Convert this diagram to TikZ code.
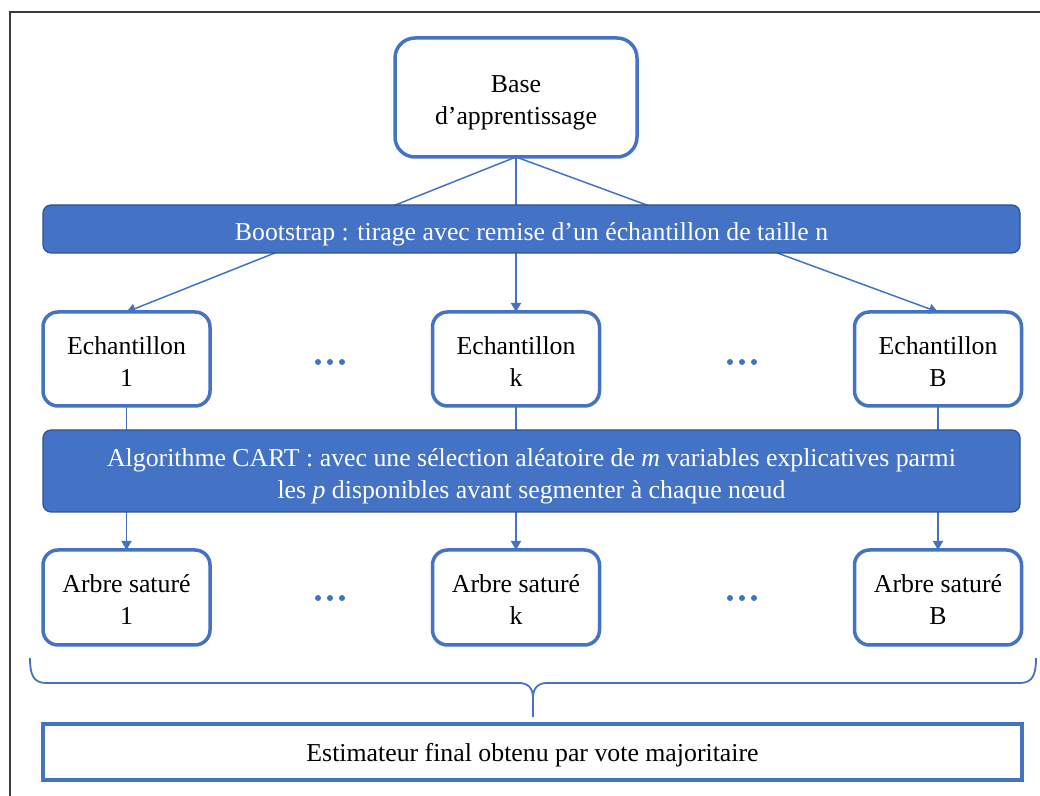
\documentclass[tikz,border=0pt]{standalone}
\usepackage{fontspec}
\setmainfont{Liberation Serif}
\usetikzlibrary{arrows.meta}
\definecolor{accent}{HTML}{4472C4}
\definecolor{accentdark}{HTML}{2F528F}
\definecolor{framegray}{HTML}{3A3A3A}
% invisible strut that gives the first text line some extra height
\newcommand{\firststrut}[1]{\rule{0pt}{#1}}

\begin{document}
\begin{tikzpicture}[x=0.5pt,y=-0.5pt,
  textlift/.style={execute at begin node={\firststrut{#1}}},
  every node/.style={font=\fontsize{12.9}{16}\selectfont, align=center, inner sep=0pt, outer sep=0pt,
    textlift=12.2pt},
  whitebox/.style={draw=accent, line width=1.75pt, fill=white, rounded corners=7.5pt,
    minimum width=83.5pt, minimum height=47pt},
  basebox/.style={whitebox, rounded corners=10pt, minimum width=121pt, minimum height=59.5pt},
  bluebar/.style={draw=accentdark, line width=0.6pt, fill=accent, text=white, rounded corners=4pt,
    minimum width=488.5pt},
  finalbox/.style={draw=accent, line width=2pt, fill=white, minimum width=489.5pt, minimum height=28pt},
  link/.style={draw=accent, line width=0.75pt},
  arrowlink/.style={link, -{Triangle[length=4.5pt,width=5pt]}},
  brace/.style={draw=accent, line width=0.9pt},
  dot/.style={fill=accent}
]
\useasboundingbox (0,0) rectangle (1040,796);

% outer frame (left and top edges)
\draw[framegray, line width=1.1pt] (10,796) -- (10,12) -- (1040,12);

% training set
\node[basebox] (base) at (516,97.5) {\firststrut{13.6pt}Base\\d’apprentissage};

% bootstrap samples
\node[whitebox] (e1) at (126.5,359) {\firststrut{11.9pt}Echantillon\\1};
\node[whitebox] (ek) at (516,359) {\firststrut{11.9pt}Echantillon\\k};
\node[whitebox] (eB) at (938,359) {\firststrut{11.9pt}Echantillon\\B};

% fully grown trees
\node[whitebox, minimum height=47.5pt] (t1) at (126.5,597.5) {\firststrut{10.9pt}Arbre saturé\\1};
\node[whitebox, minimum height=47.5pt] (tk) at (516,597.5) {\firststrut{10.9pt}Arbre saturé\\k};
\node[whitebox, minimum height=47.5pt] (tB) at (938,597.5) {\firststrut{10.9pt}Arbre saturé\\B};

% connectors pass under the two blue bars
\draw[arrowlink] (base.south) -- (e1.north);
\draw[arrowlink] (base.south) -- (ek.north);
\draw[arrowlink] (base.south) -- (eB.north);
\draw[arrowlink] (e1.south) -- (t1.north);
\draw[arrowlink] (ek.south) -- (tk.north);
\draw[arrowlink] (eB.south) -- (tB.north);

% process bars
\node[bluebar, minimum height=24pt, textlift=14.2pt] (boot) at (531.5,229)
  {Bootstrap : tirage avec remise d’un échantillon de taille n};
\node[bluebar, minimum height=41pt] (cart) at (531.5,471)
  {\firststrut{14.5pt}Algorithme CART : avec une sélection aléatoire de \textit{m} variables explicatives parmi\\
   les \textit{p} disponibles avant segmenter à chaque nœud};

% ellipses between the columns
\foreach \cx in {318,330,342,730,742,754} {
  \fill[dot] (\cx,362) circle (3);
  \fill[dot] (\cx,598) circle (3);
}

% brace gathering the trees
\draw[brace] (30,658) .. controls (30,674) and (33,683) .. (46,683) -- (519,683)
  .. controls (528,683) and (533,688) .. (533,698) -- (533,717);
\draw[brace] (533,698) .. controls (533,688) and (538,683) .. (547,683) -- (1020,683)
  .. controls (1033,683) and (1036,674) .. (1036,658);

% aggregation
\node[finalbox] (final) at (532.5,752) {Estimateur final obtenu par vote majoritaire};
\end{tikzpicture}
\end{document}
